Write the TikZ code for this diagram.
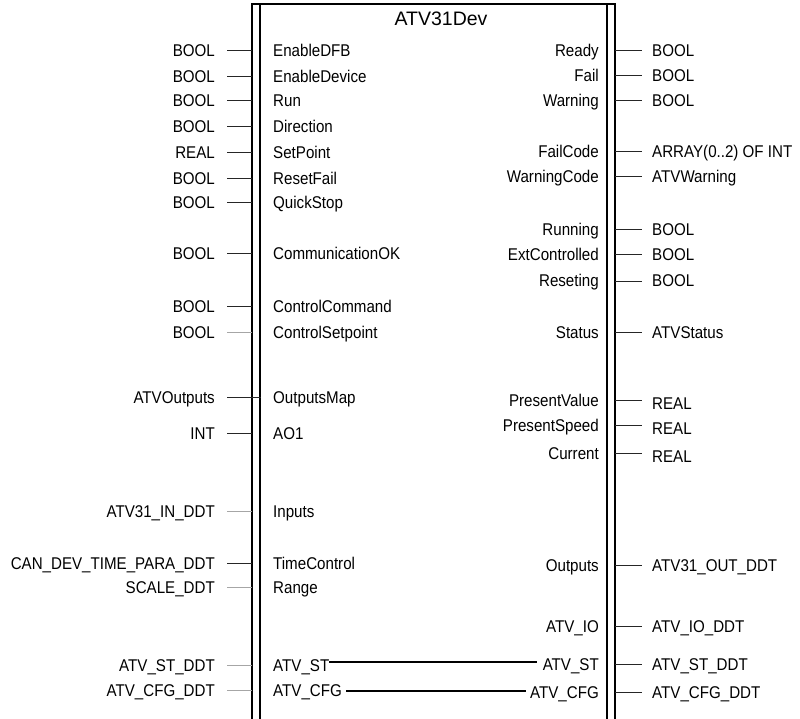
\documentclass[tikz,border=0pt]{standalone}
\usepackage{fontspec}
\setmainfont{Liberation Sans}[FakeStretch=0.89]
\newfontfamily\titlefont{Liberation Sans}
\begin{document}
\begin{tikzpicture}[x=1pt,y=-1pt,
  lbl/.style={inner sep=0pt,font=\fontsize{17}{20}\selectfont},
  ltype/.style={lbl,anchor=base east},
  lname/.style={lbl,anchor=base west},
  pin/.style={line width=1pt,black!85},
  gpin/.style={line width=1pt,gray!70},
  outer/.style={line width=1.2pt},
  inner/.style={line width=2pt},
  link/.style={line width=2pt}]
\useasboundingbox (0,0) rectangle (800,719);
% block
\coordinate (lo-top) at (252,4);
\coordinate (lo-bot) at (252,719);
\coordinate (li-top) at (260,4);
\coordinate (li-bot) at (260,719);
\coordinate (ri-top) at (607,4);
\coordinate (ri-bot) at (607,719);
\coordinate (ro-top) at (615,4);
\coordinate (ro-bot) at (615,719);
\draw[outer] (lo-bot) -- (lo-top) -- (ro-top) -- (ro-bot);
\draw[inner] (li-top) -- (li-bot);
\draw[inner] (ri-top) -- (ri-bot);
\node[inner sep=0pt,font=\titlefont\fontsize{19.5}{22}\selectfont] (title) at (441,19) {ATV31Dev};
% left pins
\foreach \y/\t/\n/\s [count=\i] in {
  51/BOOL/EnableDFB/pin, 77/BOOL/EnableDevice/pin, 101/BOOL/Run/pin,
  127/BOOL/Direction/pin, 153/REAL/SetPoint/pin, 179/BOOL/ResetFail/pin,
  203/BOOL/QuickStop/pin, 254/BOOL/CommunicationOK/pin,
  306/BOOL/ControlCommand/pin, 332/BOOL/ControlSetpoint/gpin,
  433/INT/AO1/pin, 511/ATV31\_IN\_DDT/Inputs/gpin,
  563/CAN\_DEV\_TIME\_PARA\_DDT/TimeControl/pin, 587/SCALE\_DDT/Range/gpin,
  665/ATV\_ST\_DDT/ATV\_ST/gpin, 690/ATV\_CFG\_DDT/ATV\_CFG/gpin}
{
  \node[ltype] (lt\i) at (215,\y+6) {\t};
  \node[lname] (ln\i) at (273,\y+6) {\n};
  \coordinate (la\i) at (227,\y);
  \coordinate (lb\i) at (252,\y);
  \draw[\s] (la\i) -- (lb\i);
}
% OutputsMap pin crosses to inner line
\node[ltype] (ltom) at (215,403) {ATVOutputs};
\node[lname] (lnom) at (273,403) {OutputsMap};
\coordinate (laom) at (227,397);
\coordinate (lbom) at (261,397);
\draw[pin] (laom) -- (lbom);
% right pins
\foreach \y/\ty/\n/\t [count=\i] in {
  51/51/Ready/BOOL, 76/76/Fail/BOOL, 101/101/Warning/BOOL,
  152/152/FailCode/ARRAY(0..2) OF INT, 177/177/WarningCode/ATVWarning,
  230/230/Running/BOOL, 255/255/ExtControlled/BOOL,
  281/281/Reseting/BOOL, 332/332/Status/ATVStatus,
  400/403/PresentValue/REAL, 425/428/PresentSpeed/REAL,
  453/456/Current/REAL, 565/565/Outputs/ATV31\_OUT\_DDT,
  626/626/ATV\_IO/ATV\_IO\_DDT, 664/664/ATV\_ST/ATV\_ST\_DDT,
  692/692/ATV\_CFG/ATV\_CFG\_DDT}
{
  \node[ltype] (rn\i) at (599,\y+6) {\n};
  \node[lname] (rt\i) at (652,\ty+6) {\t};
  \coordinate (ra\i) at (615,\y);
  \coordinate (rb\i) at (642,\y);
  \draw[pin] (ra\i) -- (rb\i);
}
% internal links
\coordinate (st-a) at (ln15.base east |- 0,662);
\coordinate (st-b) at ([xshift=-6pt]rn15.base west |- 0,662);
\draw[link] (st-a) -- (st-b);
\coordinate (cfg-a) at ([xshift=4pt]ln16.base east |- 0,691);
\coordinate (cfg-b) at ([xshift=-4pt]rn16.base west |- 0,691);
\draw[link] (cfg-a) -- (cfg-b);
\end{tikzpicture}
\end{document}
